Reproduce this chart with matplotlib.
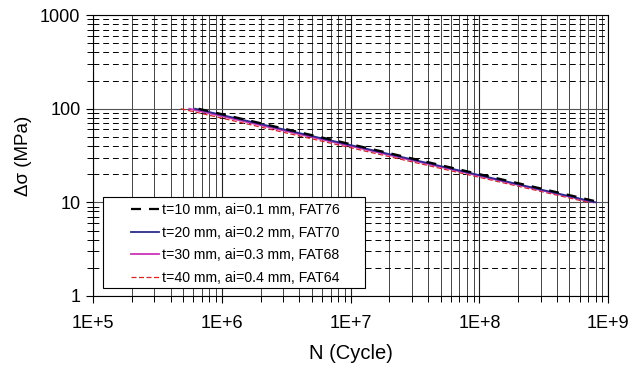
import numpy as np
import matplotlib
matplotlib.use('Agg')
import matplotlib.pyplot as plt
from matplotlib.patches import Rectangle
from matplotlib.ticker import LogLocator, FixedLocator, FixedFormatter, NullFormatter

plt.rcParams['font.family'] = ['Liberation Sans', 'DejaVu Sans']

# stress range end points (MPa) and cycles
stress = [100, 10]
n_fat76 = [6.6e5, 8.7e8]
n_fat70 = [6.2e5, 8.0e8]
n_fat68 = [5.6e5, 7.7e8]
n_fat64 = [4.8e5, 7.0e8]

labels = ["t=10 mm, ai=0.1 mm, FAT76",
          "t=20 mm, ai=0.2 mm, FAT70",
          "t=30 mm, ai=0.3 mm, FAT68",
          "t=40 mm, ai=0.4 mm, FAT64"]

xticks = [1e5, 1e6, 1e7, 1e8, 1e9]
xticklabels = ["1E+5", "1E+6", "1E+7", "1E+8", "1E+9"]
yticks = [1, 10, 100, 1000]
yticklabels = ["1", "10", "100", "1000"]

fig = plt.figure(figsize=(6.44, 3.68), dpi=100)
ax = fig.add_axes([0.1444, 0.1957, 0.8, 0.7633])

ax.set_xscale('log')
ax.set_yscale('log')
ax.set_xlim(1e5, 1e9)
ax.set_ylim(1, 1000)

ax.plot(n_fat76, stress, color='black', lw=1.6, ls=(0, (4.5, 3.6)), label=labels[0], zorder=5)
ax.plot(n_fat70, stress, color='#2b2b8c', lw=1.3, label=labels[1], zorder=4)
ax.plot(n_fat68, stress, color='#cc33bb', lw=1.3, label=labels[2], zorder=3)
ax.plot(n_fat64, stress, color='#dd2222', lw=0.9, ls=(0, (4, 2)), label=labels[3], zorder=2)

ax.xaxis.set_major_locator(FixedLocator(xticks))
ax.xaxis.set_major_formatter(FixedFormatter(xticklabels))
ax.xaxis.set_minor_locator(LogLocator(base=10, subs=np.arange(2, 10)))
ax.xaxis.set_minor_formatter(NullFormatter())
ax.yaxis.set_major_locator(FixedLocator(yticks))
ax.yaxis.set_major_formatter(FixedFormatter(yticklabels))
ax.yaxis.set_minor_locator(LogLocator(base=10, subs=np.arange(2, 10)))
ax.yaxis.set_minor_formatter(NullFormatter())

ax.grid(True, which='major', axis='x', color='#222222', lw=0.8)
ax.grid(True, which='minor', axis='x', color='#444444', lw=0.7)
ax.grid(True, which='major', axis='y', color='#555555', lw=0.8)
ax.grid(True, which='minor', axis='y', color='black', lw=0.7, ls=(0, (6, 4)))
ax.set_axisbelow(True)

ax.tick_params(which='both', direction='out', labelsize=13, color='black')
ax.tick_params(which='major', length=5, width=0.8)
ax.tick_params(which='minor', length=4, width=0.7)
ax.tick_params(axis='x', pad=9)
ax.tick_params(axis='y', pad=4)

for s in ax.spines.values():
    s.set_color('black')
    s.set_linewidth(0.8)

ax.set_xlabel("N (Cycle)", fontsize=14.5, labelpad=8)
ax.set_ylabel("Δσ (MPa)", fontsize=13.5, labelpad=6)

# legend box drawn separately: it has wide side margins
box = Rectangle((0.0194, 0.0285), 0.509, 0.324, transform=ax.transAxes,
                facecolor='white', edgecolor='black', lw=0.8, zorder=9)
ax.add_patch(box)

leg = ax.legend(loc='upper left', bbox_to_anchor=(0.0738, 0.331), fontsize=10.2,
                frameon=False, handlelength=2.0, handletextpad=0.2,
                borderpad=0, labelspacing=0.6, borderaxespad=0)
leg.set_zorder(10)

fig.savefig('out.png', dpi=100)
